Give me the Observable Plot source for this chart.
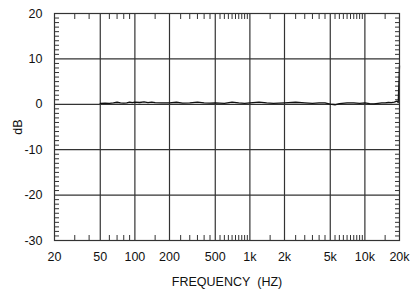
<!DOCTYPE html>
<html><head><meta charset="utf-8">
<script src="https://cdn.jsdelivr.net/npm/d3@7"></script>
<script src="https://cdn.jsdelivr.net/npm/@observablehq/plot@0.6"></script>
<style>body{margin:0;background:#fff}</style>
</head><body><div id="chart"></div>
<script>
const freqs = [50,55,60,65,70,75,80,85,90,95,100,110,120,130,140,150,170,200,230,260,300,350,400,450,500,600,700,800,900,1000,1200,1400,1600,2000,2500,3000,3500,4000,4500,5000,5500,6000,7000,8000,9000,10000,11000,12000,13000,14000,15000,16000,17000,18000,19000,19500,20000];
const dbVals = [0.2,0.25,0.2,0.3,0.45,0.3,0.25,0.3,0.5,0.35,0.5,0.4,0.55,0.35,0.5,0.35,0.3,0.3,0.45,0.25,0.3,0.5,0.3,0.25,0.3,0.2,0.5,0.3,0.2,0.3,0.5,0.3,0.2,0.3,0.45,0.3,0.2,0.3,0.3,0.05,-0.1,0.15,0.3,0.3,0.2,0.3,0.15,0.1,0.2,0.3,0.3,0.4,0.35,0.5,0.7,0.4,8.5];
const xMajor = [20,50,100,200,500,1000,2000,5000,10000,20000];
const xLabels = ["20","50","100","200","500","1k","2k","5k","10k","20k"];
const xMinor = [30,40,60,70,80,90,150,250,300,350,400,450,550,600,650,700,750,800,850,900,950,1500,2500,3000,3500,4000,4500,5500,6000,6500,7000,7500,8000,8500,9000,9500,15000];
const yMajor = [-30,-20,-10,0,10,20];
const yMinor = d3.range(-29,20).filter(v => v % 10 !== 0);

const data = freqs.map((f,i) => ({f, db: dbVals[i]}));
const xLab = xMajor.map((f,i) => ({f, t: xLabels[i]}));
const font = "Liberation Sans, Arial, sans-serif";

const chart = Plot.plot({
  width: 420, height: 290,
  marginLeft: 54, marginRight: 21, marginTop: 13, marginBottom: 50,
  style: {fontFamily: font, fontSize: "12.5px", color: "#111", background: "#fff"},
  x: {type: "log", domain: [20,20000]},
  y: {domain: [-30,20]},
  marks: [
    Plot.ruleX(xMajor.slice(1,-1), {stroke: "#333", strokeWidth: 1.2, strokeOpacity: 1}),
    Plot.ruleY(yMajor.slice(1,-1), {stroke: "#333", strokeWidth: 1.2, strokeOpacity: 1}),
    Plot.axisX({anchor: "bottom", ticks: xMinor, tickSize: -5, text: null, label: null, stroke: "#333"}),
    Plot.axisX({anchor: "top", ticks: xMinor, tickSize: -5, text: null, label: null, stroke: "#333"}),
    Plot.axisY({anchor: "left", ticks: yMinor, tickSize: -5, text: null, label: null, stroke: "#333"}),
    Plot.axisY({anchor: "right", ticks: yMinor, tickSize: -5, text: null, label: null, stroke: "#333"}),
    Plot.text(xLab, {x: "f", text: "t", frameAnchor: "bottom", dy: 20, fontSize: 12.5, fill: "#111"}),
    Plot.axisX({anchor: "bottom", ticks: [], tickSize: 0,
      label: "FREQUENCY\u00a0\u00a0(HZ)", labelAnchor: "center", labelArrow: "none", labelOffset: 45}),
    Plot.axisY({anchor: "left", ticks: yMajor, tickSize: 0, tickPadding: 12, fontSize: 12.5, tickFormat: d => String(d),
      label: "dB", labelAnchor: "center", labelArrow: "none", labelOffset: 41}),
    Plot.line(data, {x: "f", y: "db", stroke: "#111", strokeWidth: 1.3, curve: "linear"}),
    Plot.frame({stroke: "#333", strokeWidth: 1.2})
  ]
});
document.getElementById("chart").append(chart);
</script>
</body></html>
